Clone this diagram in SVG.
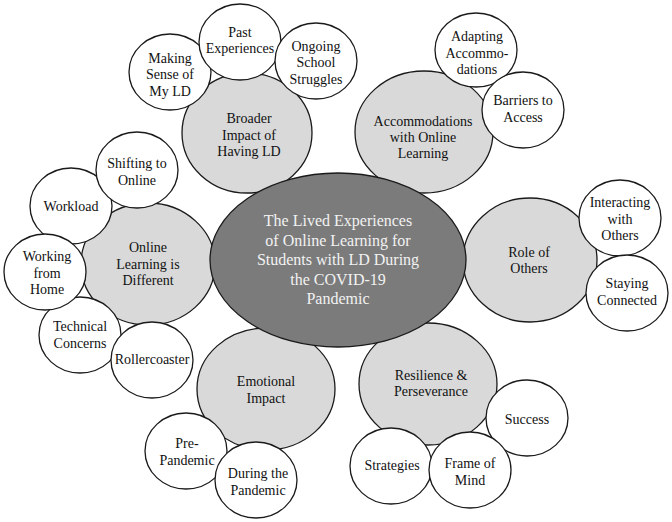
<svg xmlns="http://www.w3.org/2000/svg" width="672" height="522" viewBox="0 0 672 522" font-family="'Liberation Serif', 'Times New Roman', serif">
<style>
text{font-family:'Liberation Serif','Times New Roman',serif;font-size:14px;fill:#111;text-anchor:middle}
.theme{fill:#d9d9d9;stroke:#1a1a1a;stroke-width:1.3}
.sub{fill:#fff;stroke:#1a1a1a;stroke-width:1.3}
.core{fill:#7b7b7b;stroke:#1a1a1a;stroke-width:1.3}
.core-t{font-size:16px;fill:#f2f2f2}
</style>
<rect width="672" height="522" fill="#fff"/>
<g id="connectors"></g>
<g id="theme-broader"><ellipse class="theme" cx="247" cy="133" rx="65" ry="60"/><text x="249" y="123"><tspan x="249">Broader</tspan><tspan x="249" dy="16.5">Impact of</tspan><tspan x="249" dy="16.5">Having LD</tspan></text></g>
<g id="theme-accommodations"><ellipse class="theme" cx="424" cy="132" rx="69" ry="61"/><text x="423" y="126"><tspan x="423">Accommodations</tspan><tspan x="423" dy="16">with Online</tspan><tspan x="423" dy="16">Learning</tspan></text></g>
<g id="theme-online"><ellipse class="theme" cx="148" cy="264" rx="67" ry="61"/><text x="148" y="252"><tspan x="148">Online</tspan><tspan x="148" dy="16.5">Learning is</tspan><tspan x="148" dy="16.5">Different</tspan></text></g>
<g id="theme-others"><ellipse class="theme" cx="530" cy="260" rx="67" ry="62"/><text x="529" y="257"><tspan x="529">Role of</tspan><tspan x="529" dy="16">Others</tspan></text></g>
<g id="theme-emotional"><ellipse class="theme" cx="266" cy="389" rx="69" ry="61"/><text x="266" y="386"><tspan x="266">Emotional</tspan><tspan x="266" dy="16.5">Impact</tspan></text></g>
<g id="theme-resilience"><ellipse class="theme" cx="428" cy="384" rx="69" ry="61"/><text x="431" y="380"><tspan x="431">Resilience &amp;</tspan><tspan x="431" dy="16">Perseverance</tspan></text></g>
<g id="core"><ellipse class="core" cx="338" cy="260" rx="128" ry="87"/><text class="core-t" x="338" y="226"><tspan x="338">The Lived Experiences</tspan><tspan x="338" dy="19.5">of Online Learning  for</tspan><tspan x="338" dy="19.5">Students with LD During</tspan><tspan x="338" dy="19.5">the COVID-19</tspan><tspan x="338" dy="19.5">Pandemic</tspan></text></g>
<g id="sub-making-sense"><ellipse class="sub" cx="170" cy="72" rx="41" ry="38"/><text x="170" y="63"><tspan x="170">Making</tspan><tspan x="170" dy="16.3">Sense of</tspan><tspan x="170" dy="16.3">My LD</tspan></text></g>
<g id="sub-past"><ellipse class="sub" cx="240" cy="42" rx="41" ry="38"/><text x="240" y="37"><tspan x="240">Past</tspan><tspan x="240" dy="16.3">Experiences</tspan></text></g>
<g id="sub-ongoing"><ellipse class="sub" cx="316" cy="61" rx="41" ry="38"/><text x="316" y="51"><tspan x="316">Ongoing</tspan><tspan x="316" dy="16.3">School</tspan><tspan x="316" dy="16.3">Struggles</tspan></text></g>
<g id="sub-adapting"><ellipse class="sub" cx="476" cy="50" rx="41" ry="37"/><text x="477" y="41"><tspan x="477">Adapting</tspan><tspan x="477" dy="16.5">Accommo-</tspan><tspan x="477" dy="16.5">dations</tspan></text></g>
<g id="sub-barriers"><ellipse class="sub" cx="523" cy="110" rx="41" ry="38"/><text x="523" y="105"><tspan x="523">Barriers to</tspan><tspan x="523" dy="16.5">Access</tspan></text></g>
<g id="sub-workload"><ellipse class="sub" cx="71" cy="206" rx="41" ry="38"/><text x="71" y="211">Workload</text></g>
<g id="sub-shifting"><ellipse class="sub" cx="137" cy="170" rx="41" ry="38"/><text x="137" y="168"><tspan x="137">Shifting to</tspan><tspan x="137" dy="16.5">Online</tspan></text></g>
<g id="sub-technical"><ellipse class="sub" cx="80" cy="335" rx="41" ry="38"/><text x="80" y="331"><tspan x="80">Technical</tspan><tspan x="80" dy="16.5">Concerns</tspan></text></g>
<g id="sub-working"><ellipse class="sub" cx="45" cy="272" rx="41" ry="38"/><text x="47" y="261"><tspan x="47">Working</tspan><tspan x="47" dy="16.5">from</tspan><tspan x="47" dy="16.5">Home</tspan></text></g>
<g id="sub-rollercoaster"><ellipse class="sub" cx="152" cy="360" rx="41" ry="38"/><text x="152" y="364">Rollercoaster</text></g>
<g id="sub-interacting"><ellipse class="sub" cx="620" cy="218" rx="41" ry="38"/><text x="620" y="207"><tspan x="620">Interacting</tspan><tspan x="620" dy="16.5">with</tspan><tspan x="620" dy="16.5">Others</tspan></text></g>
<g id="sub-staying"><ellipse class="sub" cx="627" cy="293" rx="41" ry="38"/><text x="627" y="288"><tspan x="627">Staying</tspan><tspan x="627" dy="16.5">Connected</tspan></text></g>
<g id="sub-pre"><ellipse class="sub" cx="186" cy="451" rx="41" ry="38"/><text x="187" y="448"><tspan x="187">Pre-</tspan><tspan x="187" dy="16.5">Pandemic</tspan></text></g>
<g id="sub-during"><ellipse class="sub" cx="256" cy="480" rx="41" ry="38"/><text x="258" y="478"><tspan x="258">During the</tspan><tspan x="258" dy="16.5">Pandemic</tspan></text></g>
<g id="sub-success"><ellipse class="sub" cx="527" cy="418" rx="41" ry="38"/><text x="527" y="424">Success</text></g>
<g id="sub-strategies"><ellipse class="sub" cx="391" cy="466" rx="41" ry="38"/><text x="392" y="470">Strategies</text></g>
<g id="sub-frame"><ellipse class="sub" cx="470" cy="470" rx="41" ry="38"/><text x="470" y="468"><tspan x="470">Frame of</tspan><tspan x="470" dy="16.5">Mind</tspan></text></g>
</svg>
